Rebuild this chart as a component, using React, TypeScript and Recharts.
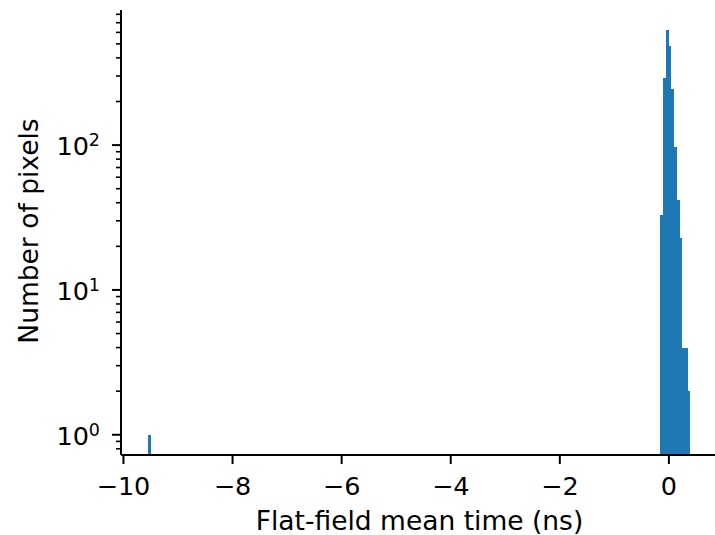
import React from 'react';
import { ComposedChart, Bar, XAxis, YAxis } from 'recharts';

// Histogram bins (bin centres, ns) and pixel counts
const binCenters = [-9.52, -0.13, -0.08, -0.03, 0.02, 0.07, 0.12, 0.17, 0.22, 0.27, 0.32, 0.37];
const pixelCounts = [1, 33, 290, 621, 482, 243, 97, 42, 23, 4, 4, 2];
const binWidth = 0.05;

const xTicks = [-10, -8, -6, -4, -2, 0];
const yMajorTicks = [1, 10, 100];
const yMinorTicks = [0.8, 0.9, 2, 3, 4, 5, 6, 7, 8, 9, 20, 30, 40, 50, 60, 70, 80, 90, 200, 300, 400, 500, 600, 700, 800];

const X_DOMAIN: [number, number] = [-10.045, 0.955];
const Y_DOMAIN: [number, number] = [0.7249, 856.6];

const data = binCenters.map((x, i) => ({ x, count: pixelCounts[i] }));

const CHART_W = 721;
const CHART_H = 535;
const Y_AXIS_W = 121;
const MARGIN = { top: 10, right: 0, left: 0, bottom: 0 };
const FONT = 'DejaVu Sans';
const FS_TICK = 25.5;
const FS_LABEL = 26.5;

const plotWidth = CHART_W - Y_AXIS_W - MARGIN.left - MARGIN.right;
const barPx = (binWidth * plotWidth) / (X_DOMAIN[1] - X_DOMAIN[0]) - 0.005;

const fmtX = (v: number) => (v < 0 ? '\u2212' + Math.abs(v) : String(v));

const YTick = (props: any) => {
  const { x, y, payload } = props;
  const v = payload.value as number;
  const lg = Math.log10(v);
  const exp = Math.round(lg);
  const isMajor = Math.abs(lg - exp) < 1e-6;
  const len = isMajor ? 9 : 5;
  return (
    <g>
      <line x1={Y_AXIS_W - len} x2={Y_AXIS_W} y1={y} y2={y} stroke="#000" strokeWidth={isMajor ? 2 : 1.6} />
      {isMajor && (
        <text x={x} y={y} dy="0.4em" textAnchor="end" fill="#000" fontFamily={FONT} fontSize={FS_TICK}>
          <tspan>10</tspan>
          <tspan dy={-9} fontSize={17.5}>{exp}</tspan>
        </text>
      )}
    </g>
  );
};

export default function App() {
  return (
    <div style={{ position: 'absolute', left: 0, top: 0, width: 715, height: 535, overflow: 'hidden', background: '#fff' }}>
      <ComposedChart width={CHART_W} height={CHART_H} data={data} margin={MARGIN} barCategoryGap={0} barGap={0}>
        <XAxis
          xAxisId="top"
          orientation="top"
          dataKey="x"
          type="number"
          domain={X_DOMAIN}
          allowDataOverflow
          height={0}
          tick={false}
          tickLine={false}
          axisLine={{ stroke: '#000', strokeWidth: 2 }}
        />
        <XAxis
          dataKey="x"
          type="number"
          domain={X_DOMAIN}
          allowDataOverflow
          ticks={xTicks}
          interval={0}
          tickFormatter={fmtX}
          height={CHART_H - MARGIN.top - 445}
          tickSize={9}
          tickMargin={12.5}
          axisLine={{ stroke: '#000', strokeWidth: 2 }}
          tickLine={{ stroke: '#000', strokeWidth: 2 }}
          tick={{ fill: '#000', fontFamily: FONT, fontSize: FS_TICK }}
          label={{
            value: 'Flat-field mean time (ns)',
            position: 'insideBottom',
            offset: 5,
            dx: -1.5,
            fill: '#000',
            fontFamily: FONT,
            fontSize: FS_LABEL,
          }}
        />
        <YAxis
          type="number"
          scale="log"
          domain={Y_DOMAIN}
          allowDataOverflow
          ticks={[...yMajorTicks, ...yMinorTicks]}
          interval={0}
          width={Y_AXIS_W}
          tickSize={9}
          tickMargin={12}
          tickLine={false}
          axisLine={{ stroke: '#000', strokeWidth: 2 }}
          tick={<YTick />}
          label={{
            value: 'Number of pixels',
            angle: -90,
            position: 'center',
            dx: -31.5,
            dy: -1.5,
            fill: '#000',
            fontFamily: FONT,
            fontSize: FS_LABEL,
          }}
        />
        <Bar
          dataKey="count"
          xAxisId={0}
          fill="#1f77b4"
          barSize={barPx}
          isAnimationActive={false}
          shapeRendering="crispEdges"
        />
      </ComposedChart>
    </div>
  );
}
